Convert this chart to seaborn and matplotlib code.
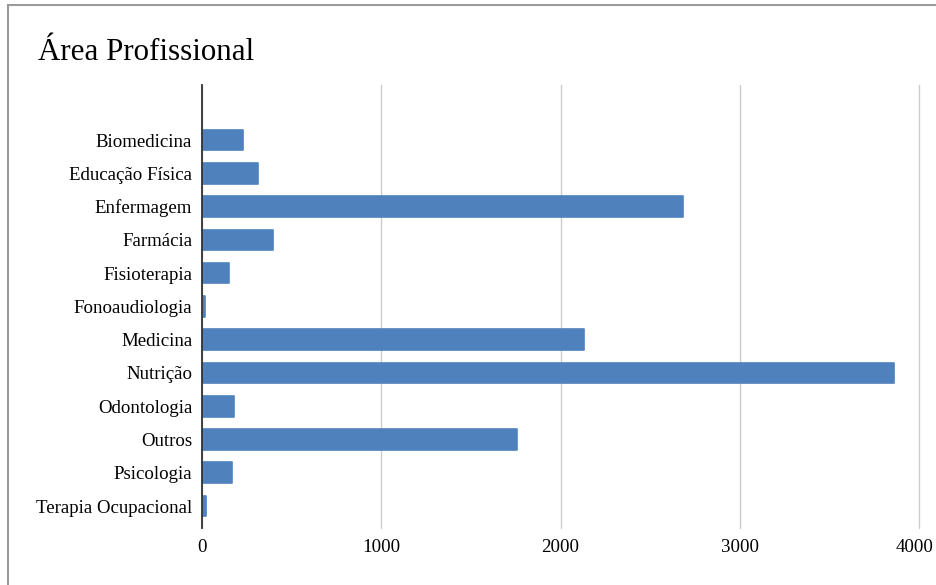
import matplotlib.pyplot as plt
import matplotlib.transforms as mtransforms
import seaborn as sns
import pandas as pd
from matplotlib.patches import Rectangle

# data
areas = ["Biomedicina", "Educação Física", "Enfermagem", "Farmácia", "Fisioterapia",
         "Fonoaudiologia", "Medicina", "Nutrição", "Odontologia", "Outros",
         "Psicologia", "Terapia Ocupacional"]
counts = [229, 310, 2683, 396, 151, 14, 2131, 3861, 179, 1757, 168, 20]
x_ticks = [0, 1000, 2000, 3000, 4000]

BAR = "#4f81bd"

sns.set_theme(style="whitegrid")
plt.rcParams["font.family"] = ["Liberation Serif", "DejaVu Serif"]

df = pd.DataFrame({"area": areas, "count": counts})

fig = plt.figure(figsize=(9.36, 5.85), dpi=100)
fig.patch.set_facecolor("white")
ax = fig.add_axes([202 / 936, 57 / 585, 717 / 936, 443 / 585])
ax.set_facecolor("white")

sns.barplot(data=df, x="count", y="area", color=BAR, saturation=1,
            width=0.62, edgecolor=BAR, linewidth=1.2, ax=ax)
for p in ax.patches:
    p.set_joinstyle("round")

ax.set_xlim(0, 4000)
ax.set_xticks(x_ticks)
ax.set_ylim(11.661, -1.653)
ax.set_xlabel("")
ax.set_ylabel("")

ax.grid(axis="x", color="#cccccc", linewidth=1)
ax.grid(axis="y", visible=False)
for gl in ax.xaxis.get_gridlines():
    gl.set_clip_on(False)
for side in ["top", "right", "bottom"]:
    ax.spines[side].set_visible(False)
ax.spines["left"].set_color("#333333")
ax.spines["left"].set_linewidth(1.3)
ax.spines["left"].set_zorder(5)
ax.tick_params(axis="both", length=0, labelsize=13.6, colors="black")
ax.tick_params(axis="y", pad=7)
ax.tick_params(axis="x", pad=8)

# the last tick label sits on the right edge; nudge it inside the canvas
last = ax.get_xticklabels()[-1]
last.set_transform(last.get_transform() +
                   mtransforms.ScaledTranslation(-4 / 100, 0, fig.dpi_scale_trans))

fig.text(38 / 936, 1 - 60 / 585, "Área Profissional", fontsize=22.3,
         va="baseline", ha="left", color="black")

# outer frame (only left and top visible in the reference)
fig.patches.append(Rectangle((8 / 936, -0.1), 1.0, 1.1 - 5 / 585,
                             transform=fig.transFigure, fill=False,
                             edgecolor="#9a9a9a", linewidth=1.5))

fig.savefig("out.png", dpi=100)
